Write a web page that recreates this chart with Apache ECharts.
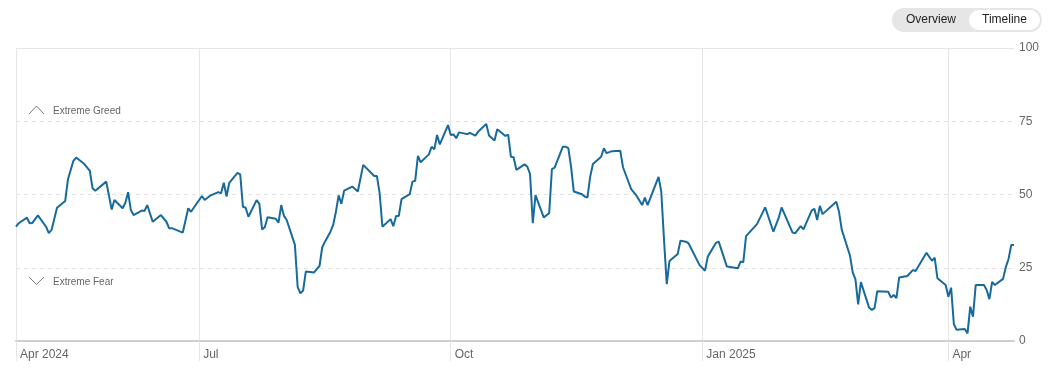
<!DOCTYPE html>
<html>
<head>
<meta charset="utf-8">
<script src="https://cdn.jsdelivr.net/npm/echarts@6/dist/echarts.min.js"></script>
<style>
  html, body { margin: 0; padding: 0; background: #fff; }
  #chart { width: 1052px; height: 376px; }
</style>
</head>
<body>
<div id="chart"></div>
<script>
// fear & greed index
var dates = [
  "2024-04-25", "2024-04-26", "2024-04-29", "2024-04-30", "2024-05-01", "2024-05-03", "2024-05-06", "2024-05-07",
  "2024-05-08", "2024-05-10", "2024-05-13", "2024-05-14", "2024-05-16", "2024-05-17", "2024-05-20", "2024-05-22",
  "2024-05-23", "2024-05-24", "2024-05-28", "2024-05-30", "2024-05-31", "2024-06-03", "2024-06-04", "2024-06-05",
  "2024-06-06", "2024-06-07", "2024-06-10", "2024-06-11", "2024-06-12", "2024-06-14", "2024-06-17", "2024-06-19",
  "2024-06-20", "2024-06-21", "2024-06-25", "2024-06-27", "2024-06-28", "2024-07-02", "2024-07-03", "2024-07-05",
  "2024-07-08", "2024-07-09", "2024-07-10", "2024-07-11", "2024-07-12", "2024-07-15", "2024-07-16", "2024-07-17",
  "2024-07-18", "2024-07-19", "2024-07-22", "2024-07-23", "2024-07-24", "2024-07-25", "2024-07-26", "2024-07-29",
  "2024-07-30", "2024-07-31", "2024-08-01", "2024-08-02", "2024-08-05", "2024-08-06", "2024-08-07", "2024-08-08",
  "2024-08-09", "2024-08-12", "2024-08-14", "2024-08-15", "2024-08-16", "2024-08-18", "2024-08-19", "2024-08-20",
  "2024-08-21", "2024-08-22", "2024-08-23", "2024-08-26", "2024-08-28", "2024-08-30", "2024-09-03", "2024-09-04",
  "2024-09-05", "2024-09-06", "2024-09-09", "2024-09-10", "2024-09-11", "2024-09-12", "2024-09-13", "2024-09-16",
  "2024-09-17", "2024-09-18", "2024-09-19", "2024-09-20", "2024-09-23", "2024-09-24", "2024-09-25", "2024-09-26",
  "2024-09-27", "2024-09-30", "2024-10-01", "2024-10-02", "2024-10-03", "2024-10-04", "2024-10-07", "2024-10-08",
  "2024-10-10", "2024-10-11", "2024-10-14", "2024-10-15", "2024-10-17", "2024-10-18", "2024-10-21", "2024-10-22",
  "2024-10-23", "2024-10-24", "2024-10-25", "2024-10-28", "2024-10-29", "2024-10-30", "2024-10-31", "2024-11-01",
  "2024-11-04", "2024-11-06", "2024-11-07", "2024-11-08", "2024-11-11", "2024-11-12", "2024-11-13", "2024-11-14",
  "2024-11-15", "2024-11-18", "2024-11-19", "2024-11-20", "2024-11-21", "2024-11-22", "2024-11-25", "2024-11-26",
  "2024-11-27", "2024-11-29", "2024-12-02", "2024-12-03", "2024-12-06", "2024-12-08", "2024-12-10", "2024-12-11",
  "2024-12-12", "2024-12-16", "2024-12-17", "2024-12-18", "2024-12-19", "2024-12-20", "2024-12-23", "2024-12-24",
  "2024-12-26", "2024-12-27", "2024-12-31", "2025-01-02", "2025-01-03", "2025-01-06", "2025-01-07", "2025-01-10",
  "2025-01-14", "2025-01-15", "2025-01-16", "2025-01-17", "2025-01-21", "2025-01-24", "2025-01-27", "2025-01-29",
  "2025-01-30", "2025-02-03", "2025-02-04", "2025-02-06", "2025-02-07", "2025-02-10", "2025-02-11", "2025-02-12",
  "2025-02-13", "2025-02-14", "2025-02-19", "2025-02-20", "2025-02-21", "2025-02-24", "2025-02-25", "2025-02-26",
  "2025-02-27", "2025-02-28", "2025-03-03", "2025-03-04", "2025-03-05", "2025-03-06", "2025-03-10", "2025-03-11",
  "2025-03-12", "2025-03-13", "2025-03-14", "2025-03-17", "2025-03-19", "2025-03-20", "2025-03-24", "2025-03-26",
  "2025-03-27", "2025-03-28", "2025-03-31", "2025-04-01", "2025-04-02", "2025-04-03", "2025-04-04", "2025-04-07",
  "2025-04-08", "2025-04-09", "2025-04-10", "2025-04-11", "2025-04-14", "2025-04-15", "2025-04-16", "2025-04-17",
  "2025-04-18", "2025-04-21", "2025-04-22", "2025-04-23", "2025-04-24", "2025-04-25"
];
var scores = [
  39.0, 40.2, 42.1, 40.2, 40.3, 42.9, 39.0, 36.8,
  37.9, 45.5, 47.8, 55.2, 61.5, 62.6, 60.4, 58.1,
  52.1, 51.3, 54.4, 44.9, 48.1, 45.3, 47.2, 50.8,
  44.7, 43.0, 44.5, 44.4, 46.4, 40.7, 43.0, 40.7,
  38.5, 38.5, 37.0, 45.3, 44.1, 49.5, 48.1, 49.6,
  50.8, 50.4, 54.0, 49.3, 54.0, 57.4, 56.9, 45.8,
  45.5, 42.4, 48.1, 46.8, 38.1, 38.8, 42.2, 41.7,
  40.4, 46.4, 42.7, 41.3, 32.8, 18.5, 16.3, 17.2,
  23.7, 23.4, 25.6, 32.0, 33.9, 37.3, 39.6, 44.1,
  49.7, 46.8, 51.3, 52.7, 51.0, 60.1, 56.3, 56.3,
  50.4, 39.0, 41.6, 39.2, 42.7, 42.7, 48.4, 50.1,
  54.4, 54.7, 63.2, 61.0, 63.7, 66.3, 65.4, 70.3,
  67.1, 73.7, 70.3, 70.5, 69.2, 71.2, 70.6, 71.0,
  70.1, 71.4, 74.1, 70.1, 68.4, 72.3, 70.0, 70.4,
  62.9, 62.7, 58.4, 60.3, 59.5, 57.0, 40.2, 49.8,
  42.2, 43.6, 58.7, 59.2, 66.3, 66.3, 65.8, 59.5,
  51.0, 50.1, 49.3, 49.0, 56.1, 60.4, 62.9, 65.8,
  64.1, 64.8, 64.9, 59.3, 51.8, 49.5, 46.4, 48.9,
  46.4, 56.0, 51.0, 34.5, 19.4, 27.3, 29.7, 34.2,
  33.9, 33.3, 25.9, 24.0, 28.8, 33.5, 33.9, 25.4,
  24.8, 27.1, 26.9, 35.8, 39.9, 45.6, 37.3, 42.2,
  45.6, 37.0, 36.8, 39.2, 38.1, 44.5, 45.1, 41.3,
  46.1, 43.3, 47.5, 44.1, 38.0, 29.2, 23.4, 21.1,
  12.5, 20.1, 11.4, 10.6, 11.2, 17.0, 16.8, 14.8,
  15.7, 14.6, 21.7, 22.2, 24.2, 23.9, 30.1, 27.4,
  28.4, 21.4, 19.1, 15.1, 18.2, 5.8, 3.8, 4.1,
  2.6, 11.7, 8.3, 19.1, 19.1, 17.4, 14.3, 20.2,
  19.1, 21.2, 25.2, 28.0, 32.8, 32.8
];
var tickDates = ["2024-04-25", "2024-07-01", "2024-10-01", "2025-01-01", "2025-04-01"];
var tickLabels = ["Apr 2024", "Jul", "Oct", "Jan 2025", "Apr"];
var scoreTicks = [0, 25, 50, 75, 100];

var FONT = "Liberation Sans, Arial, sans-serif";

// local-time parse of yyyy-mm-dd
function toTime(s) {
  var p = s.split("-");
  return new Date(+p[0], +p[1] - 1, +p[2]).getTime();
}
var tickTimes = tickDates.map(toTime);
var tMin = toTime(dates[0]);
var tMax = toTime(dates[dates.length - 1]);

var chart = echarts.init(document.getElementById("chart"), null, { renderer: "canvas" });

var option = {
  animation: false,
  grid: { left: 16, right: 38, top: 48, bottom: 35 },
  xAxis: [
    {
      // time as linear ms scale, so custom month ticks work
      type: "value",
      min: tMin,
      max: tMax,
      axisLine: { show: true, lineStyle: { color: "#cfcfcf", width: 2 } },
      axisTick: {
        show: true,
        customValues: tickTimes,
        length: 20,
        lineStyle: { color: "#e6e6e6", width: 1 }
      },
      splitLine: { show: true, lineStyle: { color: "#e6e6e6", width: 1 } },
      axisLabel: {
        customValues: tickTimes,
        color: "#666",
        fontFamily: FONT,
        fontSize: 12,
        margin: 8,
        align: "left",
        padding: [0, 0, 0, 4],
        formatter: function (v) {
          var i = tickTimes.indexOf(v);
          return i >= 0 ? tickLabels[i] : "";
        }
      }
    },
    {
      // top border at 100
      type: "value",
      position: "top",
      min: tMin,
      max: tMax,
      axisLine: { show: true, lineStyle: { color: "#e6e6e6", width: 1 } },
      axisTick: { show: false },
      axisLabel: { show: false },
      splitLine: { show: false }
    }
  ],
  yAxis: {
    type: "value",
    position: "right",
    min: 0,
    max: 100,
    interval: 25,
    axisLine: { show: false },
    axisTick: { show: false },
    axisLabel: {
      color: "#666",
      fontFamily: FONT,
      fontSize: 12,
      margin: 5,
      formatter: function (v) { return scoreTicks.indexOf(v) >= 0 ? String(v) : ""; }
    },
    splitLine: { show: true, lineStyle: { color: "#e3e3e3", type: [4, 4], width: 1 } }
  },
  series: [
    {
      type: "line",
      xAxisIndex: 0,
      data: dates.map(function (d, i) { return [toTime(d), scores[i]]; }),
      showSymbol: false,
      symbol: "none",
      lineStyle: { color: "#186a9b", width: 2 },
      z: 5
    }
  ],
  graphic: [
    // extreme greed / fear hints
    {
      type: "polyline",
      shape: { points: [[29, 114], [36.5, 106], [44, 114]] },
      style: { stroke: "#7a7a7a", lineWidth: 1, fill: null }
    },
    {
      type: "text",
      x: 53, y: 111,
      style: { text: "Extreme Greed", fill: "#666", font: "10px " + FONT, textVerticalAlign: "middle" }
    },
    {
      type: "polyline",
      shape: { points: [[29, 277], [36.5, 284.5], [44, 277]] },
      style: { stroke: "#7a7a7a", lineWidth: 1, fill: null }
    },
    {
      type: "text",
      x: 53, y: 282,
      style: { text: "Extreme Fear", fill: "#666", font: "10px " + FONT, textVerticalAlign: "middle" }
    },
    // overview / timeline switch
    {
      type: "rect",
      shape: { x: 892, y: 8, width: 150, height: 24, r: 12 },
      style: { fill: "#e6e6e6" }
    },
    {
      type: "rect",
      shape: { x: 969, y: 10, width: 71, height: 20, r: 10 },
      style: { fill: "#fff" }
    },
    {
      type: "text",
      x: 931, y: 20,
      style: { text: "Overview", fill: "#222", font: "12px " + FONT, textAlign: "center", textVerticalAlign: "middle" }
    },
    {
      type: "text",
      x: 1004.5, y: 20,
      style: { text: "Timeline", fill: "#222", font: "12px " + FONT, textAlign: "center", textVerticalAlign: "middle" }
    }
  ]
};

chart.setOption(option);
</script>
</body>
</html>
